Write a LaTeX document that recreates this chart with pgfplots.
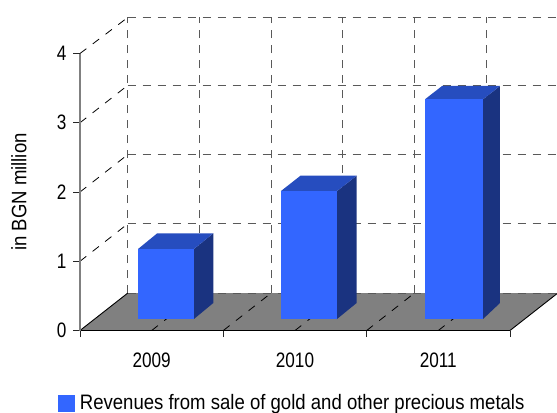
\documentclass[border=0pt]{standalone}
\usepackage{fontspec}
\setmainfont{Liberation Sans}[FakeStretch=0.887]
\newfontfamily\tickfont{Liberation Sans}[FakeStretch=0.82]
\usepackage{pgfplots}
\pgfplotsset{compat=1.18}
\definecolor{barfront}{RGB}{51,102,255}
\definecolor{bartop}{RGB}{38,77,191}
\definecolor{barside}{RGB}{26,51,128}
\definecolor{floorgray}{RGB}{128,128,128}
\begin{document}
\fontsize{21}{24}\selectfont
\begin{tikzpicture}[x=1bp,y=1bp]
\useasboundingbox (-80bp,-82.5bp) rectangle (477bp,330.5bp);
\begin{axis}[
  scale only axis, width=430bp, height=277bp,
  xmin=0, xmax=3, ymin=0, ymax=4,
  clip=false, axis on top,
  axis x line=bottom, axis y line=left,
  x axis line style={-, black, line width=0.9bp},
  y axis line style={-, gray, line width=1.3bp},
  tick align=outside,
  xtick={0,1,2,3}, xticklabels={},
  ytick={0,1,2,3,4},
  major tick length=6.5bp,
  tick style={black!85, line width=0.7bp},
  extra x ticks={0.5,1.5,2.5},
  extra x tick labels={2009,2010,2011},
  extra x tick style={major tick length=0pt, tick label style={yshift=-15.5bp}},
  /pgf/number format/assume math mode=true,
  tick label style={font=\tickfont\fontsize{21}{24}\selectfont},
  ylabel={in BGN million},
  every axis y label/.style={at={(axis description cs:-0.142,0.5)}, rotate=90, anchor=center, font=\fontsize{21}{24}\selectfont},
  legend style={draw=none, fill=none, at={(axis description cs:-0.05,-0.262)}, anchor=west, inner sep=0pt, outer sep=0pt, font=\fontsize{21}{24}\selectfont, legend cell align=left},
  griddash/.style={draw=black!65, line width=1bp, dash pattern=on 8bp off 7bp, forget plot},
  floordash/.style={draw=black, line width=0.8bp, dash pattern=on 8bp off 8bp, forget plot},
]
% back wall grid
\pgfplotsinvokeforeach{0.333,0.833,1.333,1.833,2.333,2.833}{
  \addplot[griddash] coordinates {(#1,0.54) (#1,4.52)};
}
\pgfplotsinvokeforeach{1.54,2.54,3.54,4.52}{
  \addplot[griddash] coordinates {(0.333,#1) (3.333,#1)};
}
% left wall grid
\addplot[floordash] coordinates {(0,1) (0.333,1.54)};
\addplot[floordash] coordinates {(0,2) (0.333,2.54)};
\addplot[floordash] coordinates {(0,3) (0.333,3.54)};
\addplot[floordash] coordinates {(0,4) (0.333,4.52)};
% floor
\addplot[fill=floorgray, draw=none, forget plot] coordinates {(0,0) (3,0) (3.333,0.54) (0.333,0.54)} -- cycle;
\addplot[griddash] coordinates {(0.333,0.54) (3.333,0.54)};
\addplot[black, line width=0.9bp, forget plot] coordinates {(0.333,0.54) (0,0)};
\addplot[black, line width=0.9bp, forget plot] coordinates {(3,0) (3.333,0.54)};
\pgfplotsinvokeforeach{0.5,1,1.5,2,2.5}{
  \addplot[floordash] coordinates {(#1,0) (#1+0.333,0.54)};
}
% bar 2009 (value about 1.01)
\addplot[fill=barside, draw=none, forget plot] coordinates {(0.795,0.166) (0.930,0.397) (0.930,1.404) (0.795,1.177)} -- cycle;
\addplot[fill=bartop, draw=none, forget plot] coordinates {(0.405,1.177) (0.795,1.177) (0.930,1.404) (0.539,1.404)} -- cycle;
\addplot[fill=barfront, draw=none, forget plot] coordinates {(0.405,0.166) (0.795,0.166) (0.795,1.177) (0.405,1.177)} -- cycle;
% bar 2010 (value about 1.85)
\addplot[fill=barside, draw=none, forget plot] coordinates {(1.793,0.166) (1.930,0.397) (1.930,2.235) (1.793,2.014)} -- cycle;
\addplot[fill=bartop, draw=none, forget plot] coordinates {(1.402,2.014) (1.793,2.014) (1.930,2.235) (1.538,2.235)} -- cycle;
\addplot[fill=barfront, draw=none, forget plot] coordinates {(1.402,0.166) (1.793,0.166) (1.793,2.014) (1.402,2.014)} -- cycle;
% bar 2011 (value about 3.17)
\addplot[fill=barside, draw=none, forget plot] coordinates {(2.812,0.166) (2.930,0.397) (2.930,3.531) (2.812,3.339)} -- cycle;
\addplot[fill=bartop, draw=none, forget plot] coordinates {(2.407,3.339) (2.812,3.339) (2.930,3.531) (2.526,3.531)} -- cycle;
\addplot[fill=barfront, draw=none, forget plot] coordinates {(2.407,0.166) (2.812,0.166) (2.812,3.339) (2.407,3.339)} -- cycle;
\addlegendimage{legend image code/.code={\fill[barfront] (-2bp,-8bp) rectangle (14bp,8bp);}}
\addlegendentry{\hspace{3bp}Revenues from sale of gold and other precious metals}
\end{axis}
\end{tikzpicture}
\end{document}
